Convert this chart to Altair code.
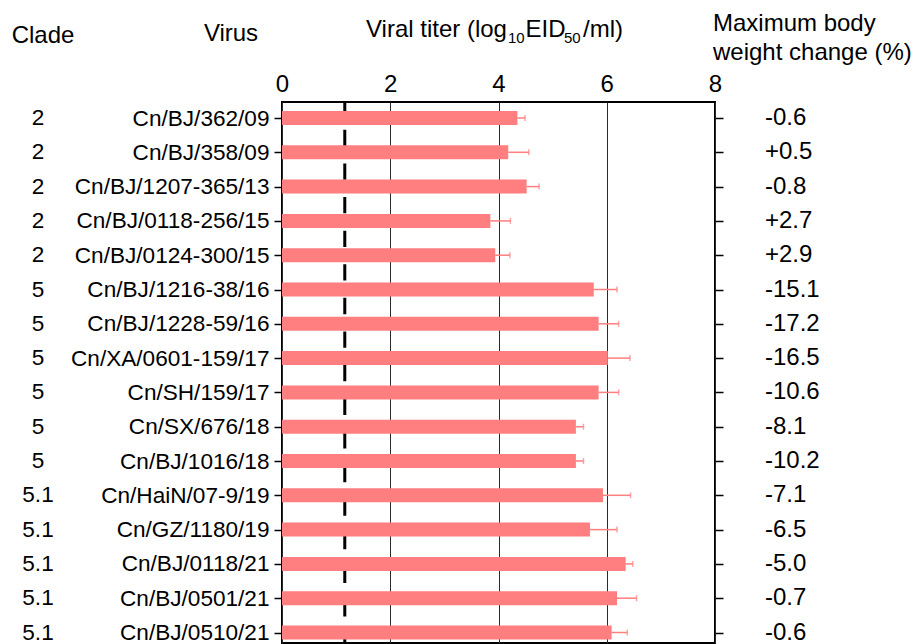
import json
import altair as alt
import pandas as pd

# ---- data ----
clades = ["2", "2", "2", "2", "2", "5", "5", "5", "5", "5", "5",
          "5.1", "5.1", "5.1", "5.1", "5.1"]
viruses = ["Cn/BJ/362/09", "Cn/BJ/358/09", "Cn/BJ/1207-365/13", "Cn/BJ/0118-256/15",
           "Cn/BJ/0124-300/15", "Cn/BJ/1216-38/16", "Cn/BJ/1228-59/16", "Cn/XA/0601-159/17",
           "Cn/SH/159/17", "Cn/SX/676/18", "Cn/BJ/1016/18", "Cn/HaiN/07-9/19",
           "Cn/GZ/1180/19", "Cn/BJ/0118/21", "Cn/BJ/0501/21", "Cn/BJ/0510/21"]
titer = [4.35, 4.18, 4.52, 3.85, 3.94, 5.76, 5.85, 6.02, 5.85, 5.43, 5.43,
         5.93, 5.69, 6.35, 6.19, 6.09]
titer_err = [0.14, 0.38, 0.23, 0.37, 0.27, 0.43, 0.37, 0.41, 0.37, 0.14, 0.14,
             0.51, 0.50, 0.13, 0.36, 0.29]
weight_change = ["-0.6", "+0.5", "-0.8", "+2.7", "+2.9", "-15.1", "-17.2", "-16.5",
                 "-10.6", "-8.1", "-10.2", "-7.1", "-6.5", "-5.0", "-0.7", "-0.6"]
detection_limit = [1.16]
x_ticks = [0, 2, 4, 6, 8]

FONT = "Liberation Sans"
BAR = "#FF7E7F"
W, H = 433, 541

df = pd.DataFrame({
    "idx": list(range(len(viruses))),
    "virus": viruses,
    "clade": clades,
    "titer": titer,
    "hi": [t + e for t, e in zip(titer, titer_err)],
    "weight": weight_change,
})

yscale = alt.Scale(domain=[-0.4665, 15.306], reverse=True, nice=False, zero=False, padding=0)
xscale = alt.Scale(domain=[0, 8], nice=False, zero=False, padding=0)
label_expr = json.dumps(viruses) + "[datum.value]"

xaxis = alt.Axis(orient="top", values=x_ticks, title=None, grid=True,
                 gridColor="#2a2a2a", gridWidth=1, ticks=False, domain=False,
                 labelFontSize=24, labelPadding=6, labelColor="black",
                 labelFont=FONT, labelFlush=False)

base = alt.Chart(df)

lod = alt.Chart(pd.DataFrame({"lod": detection_limit})).mark_rule(
    color="black", strokeWidth=3, strokeDash=[16.3, 17.3], strokeDashOffset=5.75
).encode(
    x=alt.X("lod:Q", scale=xscale, axis=xaxis),
    y=alt.value(0),
    y2=alt.value(H),
)

bars = base.mark_bar(orient="horizontal", size=14, color=BAR).encode(
    x=alt.X("titer:Q", scale=xscale, axis=xaxis),
    x2=alt.datum(0),
    y=alt.Y("idx:Q", scale=yscale,
            axis=alt.Axis(orient="left", values=list(range(len(viruses))),
                          labelExpr=label_expr, title=None, grid=False, domain=False,
                          tickColor="black", tickSize=8, tickWidth=1.5,
                          labelFontSize=22.6, labelPadding=5, labelColor="black",
                          labelFont=FONT, labelOverlap=False, labelLimit=400)),
)

err_line = base.mark_rule(color=BAR, strokeWidth=1.5).encode(
    x=alt.X("titer:Q", scale=xscale, axis=xaxis),
    x2="hi:Q",
    y=alt.Y("idx:Q", scale=yscale, axis=None),
)
err_cap = base.mark_tick(color=BAR, orient="vertical", size=6, thickness=1.5).encode(
    x=alt.X("hi:Q", scale=xscale, axis=xaxis),
    y=alt.Y("idx:Q", scale=yscale, axis=None),
)

clade_txt = base.mark_text(align="center", baseline="middle", fontSize=22.6,
                           font=FONT, color="black").encode(
    x=alt.value(-244),
    y=alt.Y("idx:Q", scale=yscale, axis=None),
    text="clade:N",
)

weight_txt = base.mark_text(align="left", baseline="middle", fontSize=24,
                            font=FONT, color="black").encode(
    x=alt.value(483),
    y=alt.Y("idx:Q", scale=yscale,
            axis=alt.Axis(orient="right", values=list(range(len(viruses))),
                          labels=False, title=None, grid=False, domain=False,
                          tickColor="black", tickSize=8, tickWidth=1.5)),
    text="weight:N",
)

# header texts
headers = pd.DataFrame({
    "t": ["Clade", "Virus", "Viral titer (log", "10", "EID", "50", "/ml)",
          "Maximum body", "weight change (%)"],
    "px": [-239, -51, 84, 226, 243.5, 282, 301, 431, 431],
    "py": [-59, -61, -65.5, -59.5, -65.5, -59.5, -65.5, -71, -42.3],
    "fs": [24, 24, 24, 15, 24, 15, 24, 24, 24],
    "al": ["center", "center", "left", "left", "left", "left", "left", "left", "left"],
})

def header(i):
    r = headers.iloc[i]
    return alt.Chart(headers.iloc[[i]]).mark_text(
        align=r["al"], baseline="alphabetic", fontSize=float(r["fs"]), font=FONT,
        color="black"
    ).encode(x=alt.value(float(r["px"])), y=alt.value(float(r["py"])), text="t:N")

layers = [lod, bars, err_line, err_cap, clade_txt, weight_txt] + [header(i) for i in range(len(headers))]

chart = alt.layer(*layers).resolve_axis(y="independent").properties(
    width=W, height=H,
    autosize=alt.AutoSizeParams(type="none"),
    padding={"left": 274, "top": 94, "right": 198, "bottom": 2},
    background="white",
).configure(font=FONT).configure_view(stroke="black", strokeWidth=2)

chart.save("out.html", embed_options={"renderer": "svg", "actions": False})
